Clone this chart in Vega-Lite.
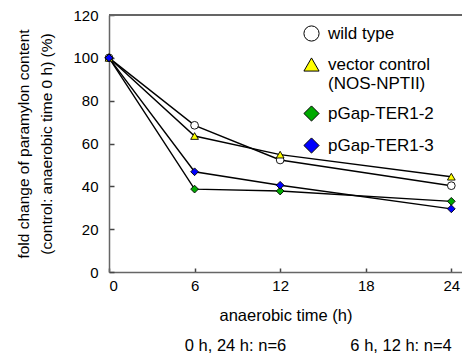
{
  "$schema": "https://vega.github.io/schema/vega-lite/v6.json",
  "width": 353,
  "height": 257,
  "autosize": "none",
  "padding": {"left": 109, "top": 15, "right": 0, "bottom": 88},
  "background": "white",
  "config": {
    "font": "Liberation Sans",
    "view": {"stroke": null},
    "legend": {"symbolStrokeColor": "black", "symbolStrokeWidth": 1},
    "axis": {"grid": false, "domainColor": "#666666", "domainWidth": 1.5, "tickColor": "#444444", "tickWidth": 1.5, "labelColor": "black", "titleColor": "black", "labelFont": "Liberation Sans", "titleFont": "Liberation Sans", "titleFontWeight": "normal", "labelFontSize": 15}
  },
  "data": {
    "values": [
      {"series": "wild type", "time": 0, "value": 100},
      {"series": "wild type", "time": 6, "value": 68.5},
      {"series": "wild type", "time": 12, "value": 52.3},
      {"series": "wild type", "time": 24, "value": 40.3},
      {"series": "vector control", "time": 0, "value": 100},
      {"series": "vector control", "time": 6, "value": 63.5},
      {"series": "vector control", "time": 12, "value": 54.8},
      {"series": "vector control", "time": 24, "value": 44.5},
      {"series": "pGap-TER1-2", "time": 0, "value": 100},
      {"series": "pGap-TER1-2", "time": 6, "value": 38.7},
      {"series": "pGap-TER1-2", "time": 12, "value": 37.8},
      {"series": "pGap-TER1-2", "time": 24, "value": 33.0},
      {"series": "pGap-TER1-3", "time": 0, "value": 100},
      {"series": "pGap-TER1-3", "time": 6, "value": 46.8},
      {"series": "pGap-TER1-3", "time": 12, "value": 40.5},
      {"series": "pGap-TER1-3", "time": 24, "value": 29.5}
    ]
  },
  "title": {
    "text": "0 h, 24 h: n=6\u00a0\u00a0\u00a0\u00a0\u00a0\u00a0\u00a0\u00a0\u00a0\u00a0\u00a0\u00a0\u00a0\u00a06 h, 12 h: n=4",
    "orient": "bottom",
    "anchor": "end",
    "dx": -11,
    "offset": 14,
    "fontSize": 16.5,
    "fontWeight": "normal",
    "font": "Liberation Sans",
    "color": "black"
  },
  "encoding": {
    "x": {
      "field": "time", "type": "quantitative",
      "scale": {"domain": [0, 24.75], "nice": false, "zero": false},
      "axis": {"values": [0, 6, 12, 18, 24], "tickSize": -4, "labelPadding": 10, "title": "anaerobic time (h)", "titleFontSize": 16.5, "titlePadding": 14, "labelAngle": 0}
    },
    "y": {
      "field": "value", "type": "quantitative",
      "scale": {"domain": [0, 120], "nice": false},
      "axis": {"values": [0, 20, 40, 60, 80, 100, 120], "tickSize": -5, "labelPadding": 16, "title": ["fold change of paramylon content", "(control: anaerobic time 0 h) (%)"], "titleFontSize": 15.5, "titlePadding": 18, "titleLineHeight": 23}
    }
  },
  "layer": [
    {
      "mark": {"type": "rule", "color": "#666666", "strokeWidth": 1.5},
      "encoding": {"y": {"datum": 120}, "x": null}
    },
    {
      "mark": {"type": "line", "color": "black", "strokeWidth": 1.4},
      "encoding": {"detail": {"field": "series"}}
    },
    {
      "mark": {"type": "point", "filled": true, "opacity": 1, "size": 60, "stroke": "black", "strokeWidth": 0.9},
      "encoding": {
        "shape": {
          "field": "series", "type": "nominal",
          "scale": {"domain": ["wild type", "vector control", "pGap-TER1-2", "pGap-TER1-3"], "range": ["circle", "triangle-up", "diamond", "diamond"]},
          "legend": {
            "title": null,
            "orient": "none",
            "legendX": 194,
            "legendY": 10,
            "padding": 0,
            "symbolSize": 230,
            "symbolStrokeColor": "black",
            "symbolStrokeWidth": 1,
            "symbolOpacity": 1,
            "labelFontSize": 17,
            "labelFont": "Liberation Sans",
            "labelColor": "black",
            "labelLimit": 300,
            "labelOffset": 8,
            "rowPadding": 11,
            "labelExpr": "datum.value == 'vector control' ? ['vector control', '(NOS-NPTII)'] : datum.label",
            "encode": {
              "symbols": {"update": {"stroke": {"value": "black"}, "strokeWidth": {"value": 1}}},
              "labels": {"update": {"dy": {"signal": "datum.value == 'vector control' ? 10 : 0"}}}
            }
          }
        },
        "fill": {
          "field": "series", "type": "nominal",
          "scale": {"domain": ["wild type", "vector control", "pGap-TER1-2", "pGap-TER1-3"], "range": ["#ffffff", "#ffff00", "#00aa00", "#0000ff"]},
          "legend": {
            "title": null,
            "orient": "none",
            "legendX": 194,
            "legendY": 10,
            "padding": 0,
            "symbolSize": 230,
            "symbolStrokeColor": "black",
            "symbolStrokeWidth": 1,
            "symbolOpacity": 1,
            "labelFontSize": 17,
            "labelFont": "Liberation Sans",
            "labelColor": "black",
            "labelLimit": 300,
            "labelOffset": 8,
            "rowPadding": 11,
            "labelExpr": "datum.value == 'vector control' ? ['vector control', '(NOS-NPTII)'] : datum.label",
            "encode": {
              "symbols": {"update": {"stroke": {"value": "black"}, "strokeWidth": {"value": 1}}}
            }
          }
        }
      }
    }
  ]
}
